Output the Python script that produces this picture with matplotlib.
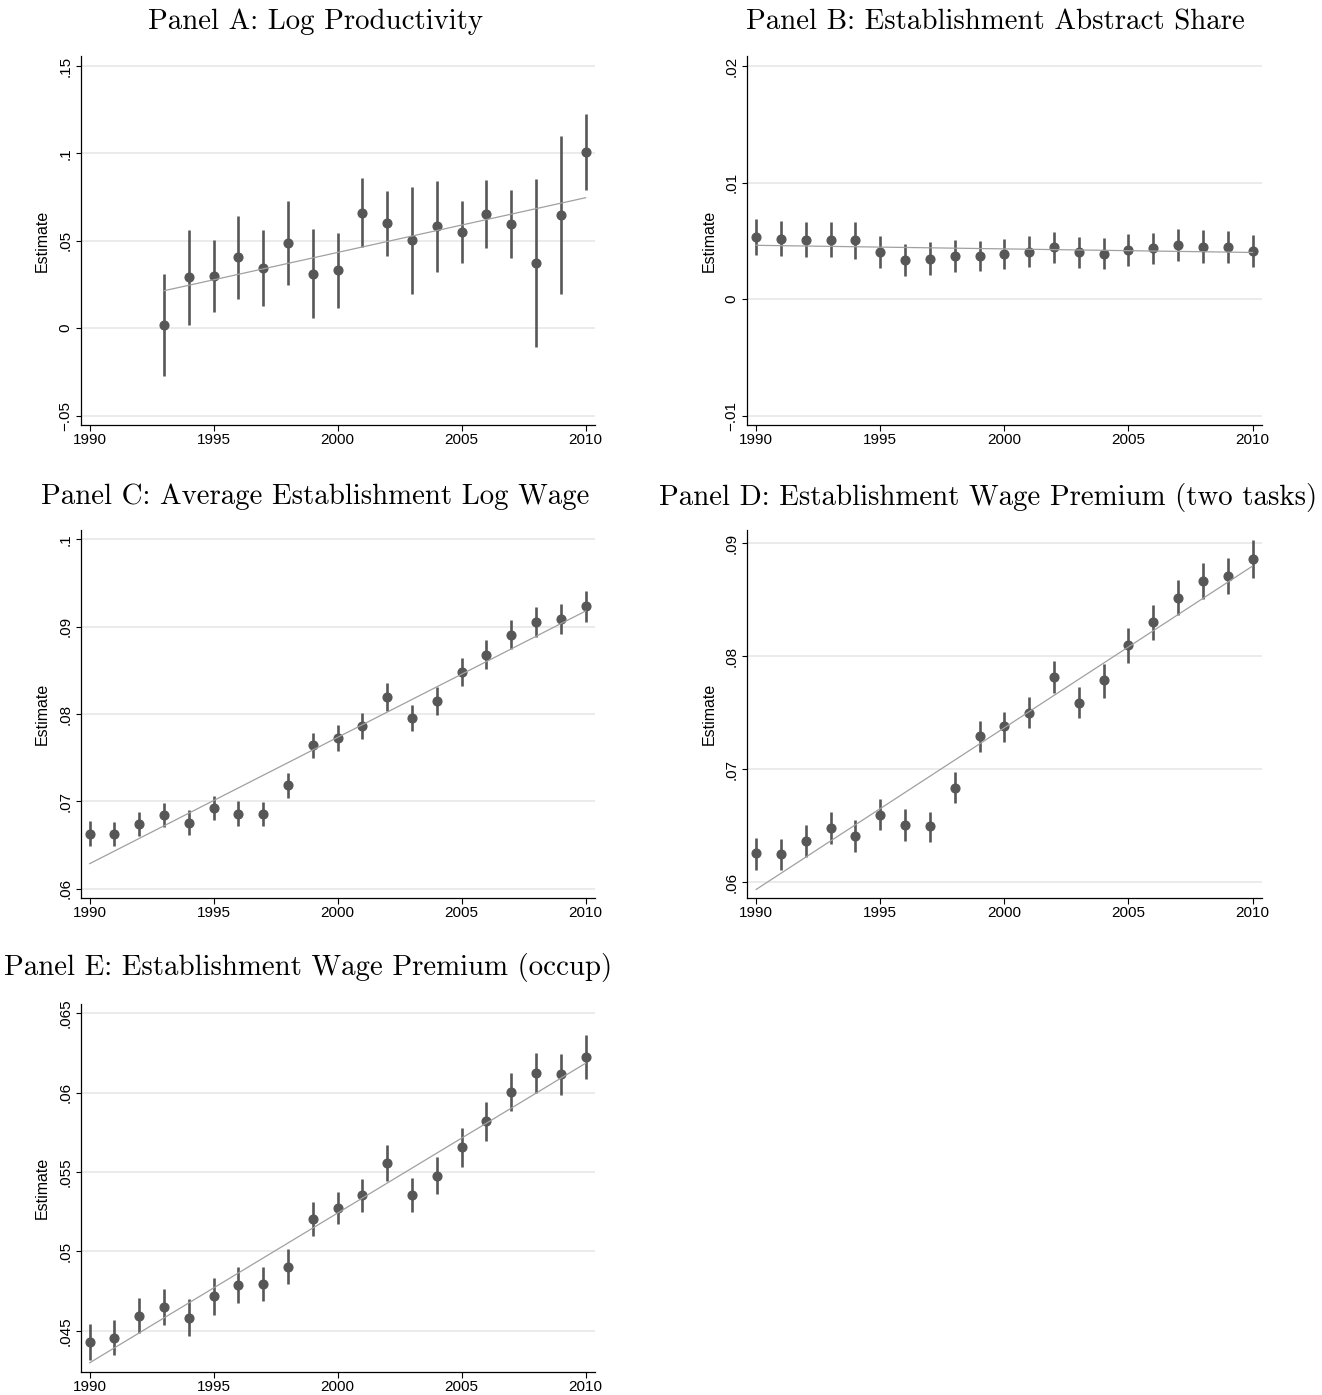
import numpy as np
import matplotlib
matplotlib.use("Agg")
import matplotlib.pyplot as plt
from matplotlib.ticker import FixedLocator, FixedFormatter

# ---- data: yearly estimates with 95% confidence bounds ----
years_a = np.arange(1993, 2011)
prod_est = [0.0019, 0.0290, 0.0296, 0.0405, 0.0342, 0.0487, 0.0309, 0.0330, 0.0656,
            0.0599, 0.0502, 0.0584, 0.0548, 0.0653, 0.0594, 0.0372, 0.0647, 0.1010]
prod_lo = [-0.0273, 0.0017, 0.0090, 0.0168, 0.0128, 0.0246, 0.0057, 0.0116, 0.0464,
           0.0414, 0.0198, 0.0321, 0.0374, 0.0458, 0.0401, -0.0105, 0.0197, 0.0792]
prod_hi = [0.0309, 0.0561, 0.0504, 0.0641, 0.0559, 0.0725, 0.0565, 0.0542, 0.0859,
           0.0784, 0.0807, 0.0844, 0.0727, 0.0847, 0.0788, 0.0853, 0.1099, 0.1225]

years = np.arange(1990, 2011)
abs_est = [0.00529, 0.00517, 0.00509, 0.00509, 0.00503, 0.00406, 0.00337, 0.00345,
           0.00371, 0.00366, 0.00383, 0.00406, 0.00446, 0.00400, 0.00388, 0.00417,
           0.00434, 0.00463, 0.00449, 0.00449, 0.00414]
abs_lo = [0.00377, 0.00368, 0.00360, 0.00360, 0.00348, 0.00268, 0.00200, 0.00208,
          0.00234, 0.00245, 0.00260, 0.00277, 0.00311, 0.00265, 0.00254, 0.00285,
          0.00303, 0.00328, 0.00311, 0.00311, 0.00277]
abs_hi = [0.00683, 0.00669, 0.00660, 0.00660, 0.00660, 0.00543, 0.00474, 0.00486,
          0.00509, 0.00494, 0.00512, 0.00543, 0.00577, 0.00534, 0.00526, 0.00557,
          0.00569, 0.00597, 0.00589, 0.00583, 0.00549]

wage_est = [0.06629, 0.06625, 0.06736, 0.06839, 0.06755, 0.06923, 0.06858, 0.06854,
            0.07182, 0.07640, 0.07727, 0.07865, 0.08200, 0.07956, 0.08154, 0.08482,
            0.08681, 0.08906, 0.09051, 0.09089, 0.09234]
wage_lo = [0.06484, 0.06484, 0.06599, 0.06702, 0.06614, 0.06782, 0.06713, 0.06713,
           0.07037, 0.07491, 0.07582, 0.07716, 0.08040, 0.07811, 0.07994, 0.08315,
           0.08513, 0.08746, 0.08883, 0.08921, 0.09058]
wage_hi = [0.06778, 0.06763, 0.06877, 0.06980, 0.06896, 0.07064, 0.06999, 0.06995,
           0.07323, 0.07788, 0.07876, 0.08013, 0.08357, 0.08101, 0.08307, 0.08646,
           0.08848, 0.09073, 0.09222, 0.09257, 0.09409]

prem2_est = [0.06254, 0.06251, 0.06364, 0.06479, 0.06405, 0.06597, 0.06508, 0.06494,
             0.06836, 0.07289, 0.07380, 0.07501, 0.07815, 0.07587, 0.07785, 0.08096,
             0.08300, 0.08518, 0.08663, 0.08707, 0.08864]
prem2_lo = [0.06109, 0.06109, 0.06222, 0.06337, 0.06263, 0.06464, 0.06364, 0.06355,
            0.06703, 0.07153, 0.07244, 0.07366, 0.07676, 0.07454, 0.07634, 0.07942,
            0.08140, 0.08367, 0.08503, 0.08548, 0.08696]
prem2_hi = [0.06390, 0.06384, 0.06508, 0.06618, 0.06547, 0.06736, 0.06650, 0.06624,
            0.06970, 0.07425, 0.07510, 0.07637, 0.07954, 0.07723, 0.07933, 0.08249,
            0.08453, 0.08672, 0.08826, 0.08867, 0.09033]

premo_est = [0.04429, 0.04456, 0.04592, 0.04651, 0.04582, 0.04716, 0.04786, 0.04796,
             0.04903, 0.05206, 0.05271, 0.05355, 0.05557, 0.05357, 0.05475, 0.05655,
             0.05821, 0.06004, 0.06122, 0.06118, 0.06227]
premo_lo = [0.04315, 0.04345, 0.04483, 0.04536, 0.04466, 0.04601, 0.04672, 0.04687,
            0.04792, 0.05099, 0.05170, 0.05246, 0.05445, 0.05250, 0.05359, 0.05534,
            0.05697, 0.05884, 0.05996, 0.05985, 0.06088]
premo_hi = [0.04542, 0.04567, 0.04704, 0.04765, 0.04702, 0.04832, 0.04903, 0.04903,
            0.05015, 0.05311, 0.05374, 0.05458, 0.05670, 0.05464, 0.05592, 0.05775,
            0.05941, 0.06124, 0.06250, 0.06244, 0.06363]

titles = ["Panel A: Log Productivity",
          "Panel B: Establishment Abstract Share",
          "Panel C: Average Establishment Log Wage",
          "Panel D: Establishment Wage Premium (two tasks)",
          "Panel E: Establishment Wage Premium (occup)"]

ytick_vals = [[-0.05, 0.0, 0.05, 0.10, 0.15],
              [-0.01, 0.0, 0.01, 0.02],
              [0.06, 0.07, 0.08, 0.09, 0.10],
              [0.06, 0.07, 0.08, 0.09],
              [0.045, 0.05, 0.055, 0.06, 0.065]]
ytick_labels = [["\u2212.05", "0", ".05", ".1", ".15"],
                ["\u2212.01", "0", ".01", ".02"],
                [".06", ".07", ".08", ".09", ".1"],
                [".06", ".07", ".08", ".09"],
                [".045", ".05", ".055", ".06", ".065"]]
xtick_vals = [1990, 1995, 2000, 2005, 2010]
ylims = [(-0.0554, 0.1557), (-0.01081, 0.02086), (0.05894, 0.10106),
         (0.05858, 0.09118), (0.04242, 0.06559)]

series = [(years_a, prod_est, prod_lo, prod_hi),
          (years, abs_est, abs_lo, abs_hi),
          (years, wage_est, wage_lo, wage_hi),
          (years, prem2_est, prem2_lo, prem2_hi),
          (years, premo_est, premo_lo, premo_hi)]

# ---- layout (pixel boxes converted to figure fractions) ----
W, H = 1322, 1395
fig = plt.figure(figsize=(W / 100, H / 100), dpi=100)
fig.patch.set_facecolor("white")

col_x = [(80.5, 595.0), (747.0, 1262.0)]
row_y = [(56.0, 425.0), (530.0, 898.0), (1004.0, 1371.7)]
cells = [(0, 0), (0, 1), (1, 0), (1, 1), (2, 0)]
title_x = [315, 995, 315, 988, 308]
title_y = [22, 22, 497, 497, 967]

SANS = "Liberation Sans"
MARK = "#575757"
FIT = "#a0a0a0"
GRID = "#e8e8e8"

for i, (r, c) in enumerate(cells):
    x0, x1 = col_x[c]
    y0, y1 = row_y[r]
    ax = fig.add_axes([x0 / W, 1 - y1 / H, (x1 - x0) / W, (y1 - y0) / H])
    yr, est, lo, hi = series[i]
    yr = np.asarray(yr)
    est = np.asarray(est)

    ax.vlines(yr, lo, hi, color=MARK, lw=1.9, zorder=3)
    ax.plot(yr, est, "o", color=MARK, ms=6.3, mec=MARK, zorder=4)
    slope, icpt = np.polyfit(yr, est, 1)
    xf = np.array([yr.min(), yr.max()])
    ax.plot(xf, icpt + slope * xf, color=FIT, lw=0.9, zorder=5)

    ax.set_xlim(1989.63, 2010.38)
    ax.set_ylim(*ylims[i])
    ax.xaxis.set_major_locator(FixedLocator(xtick_vals))
    ax.set_xticklabels([str(v) for v in xtick_vals], fontfamily=SANS, fontsize=11)
    ax.yaxis.set_major_locator(FixedLocator(ytick_vals[i]))
    ax.yaxis.set_major_formatter(FixedFormatter(ytick_labels[i]))
    for lab in ax.get_yticklabels():
        lab.set_fontfamily(SANS)
        lab.set_fontsize(11)
        lab.set_rotation(90)
        lab.set_va("center")
    ax.tick_params(axis="y", length=3.5, width=0.8, pad=2.5)
    ax.tick_params(axis="x", length=4, width=0.8, pad=2)
    ax.grid(axis="y", color=GRID, lw=1.2, zorder=0)
    ax.set_axisbelow(True)
    for s in ("top", "right"):
        ax.spines[s].set_visible(False)
    for s in ("left", "bottom"):
        ax.spines[s].set_linewidth(0.9)
        ax.spines[s].set_color("black")
    ax.set_ylabel("Estimate", fontfamily=SANS, fontsize=11.5, labelpad=6)

    fig.text(title_x[i] / W, 1 - title_y[i] / H, titles[i], family="cmr10",
             fontsize=20.8, ha="center", va="center")

fig.savefig("out.png", dpi=100, facecolor="white")
